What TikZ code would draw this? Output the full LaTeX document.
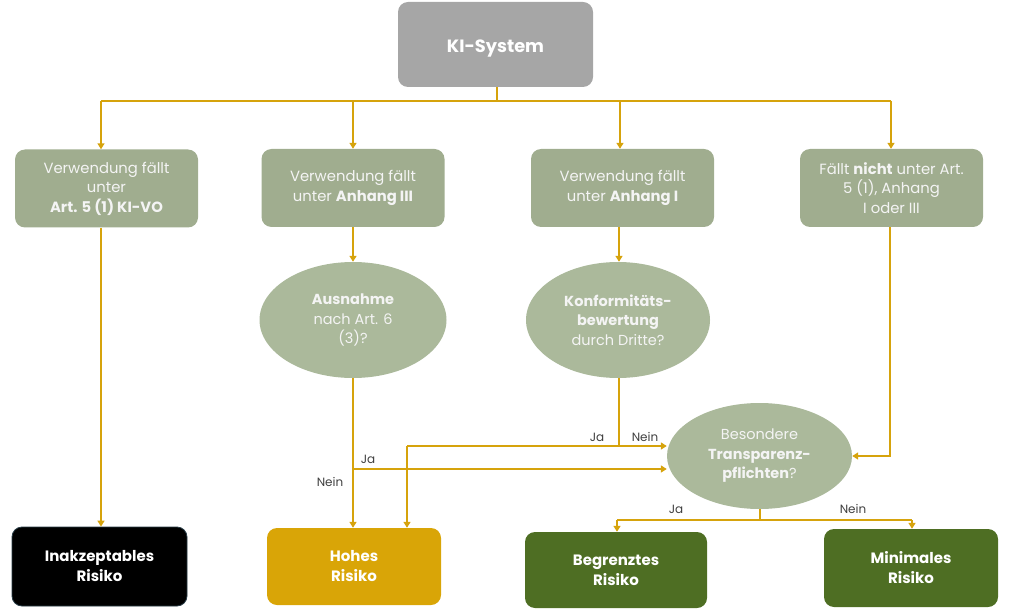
\documentclass[tikz,border=0pt]{standalone}
\usepackage{fontspec}
\setmainfont{Poppins}
\usetikzlibrary{shapes.geometric,arrows.meta}
\definecolor{sage}{HTML}{A0AD8F}
\definecolor{sagelight}{HTML}{ABB99B}
\definecolor{kigray}{HTML}{A6A6A6}
\definecolor{gold}{HTML}{D6A30C}
\definecolor{hohes}{HTML}{D9A507}
\definecolor{dgreen}{HTML}{4E6E23}
\definecolor{lbl}{HTML}{404040}
\definecolor{boxtext}{HTML}{F4F4F4}
\tikzset{
  cbox/.style={rectangle, rounded corners=10pt, fill=sage, text=boxtext, align=center,
    minimum width=183pt, minimum height=78pt, inner sep=2pt, font=\fontsize{14.8}{19.5}\selectfont},
  rbox/.style={rectangle, rounded corners=10pt, text=white, align=center,
    minimum height=78pt, inner sep=2pt, font=\bfseries\fontsize{15}{20}\selectfont},
  cell/.style={ellipse, fill=sagelight, text=boxtext, align=center, inner sep=0pt,
    font=\fontsize{14.5}{19.5}\selectfont},
  cline/.style={draw=gold, line width=2.2pt},
  carr/.style={cline, -{Triangle[length=6pt,width=7pt]}},
  clbl/.style={text=lbl, font=\fontsize{12}{14}\selectfont, inner sep=1pt}
}
\begin{document}
\begin{tikzpicture}[x=1pt,y=-1pt]
\useasboundingbox (0,0) rectangle (1024,612);
% nodes
\node[rectangle, rounded corners=10pt, fill=kigray, text=white, minimum width=195pt, minimum height=85pt,
  text height=19pt, text depth=3.6pt,
  font=\bfseries\fontsize{17.8}{20}\selectfont] (KI) at (495.5,44.5) {KI-System};
\node[cbox] (A1) at (106.5,188.5) {Verwendung fällt\\unter\\\textbf{Art. 5 (1) KI-VO}};
\node[cbox] (A2) at (353,188) {Verwendung fällt\\unter \textbf{Anhang III}};
\node[cbox] (A3) at (622.5,188) {Verwendung fällt\\unter \textbf{Anhang I}};
\node[cbox] (A4) at (891.5,188) {Fällt \textbf{nicht} unter Art.\\5 (1), Anhang\\I oder III};
\node[cell, minimum width=187pt, minimum height=116pt] (E1) at (353,320) {\textbf{Ausnahme}\\nach Art. 6\\(3)?};
\node[cell, minimum width=184pt, minimum height=116pt] (E2) at (618,320) {\textbf{Konformitäts-}\\\textbf{bewertung}\\durch Dritte?};
\node[cell, minimum width=185pt, minimum height=106pt] (E3) at (759.5,456) {Besondere\\\textbf{Transparenz-}\\\textbf{pflichten}?};
\node[rbox, fill=black, draw={rgb,255:red,40;green,60;blue,70}, line width=0.8pt, minimum width=175pt, minimum height=79pt] (B1) at (99.5,566.5) {Inakzeptables\\Risiko};
\node[rbox, fill=hohes, minimum width=174pt, minimum height=77pt] (B2) at (354,566.5) {Hohes\\Risiko};
\node[rbox, fill=dgreen, minimum width=182pt, minimum height=76pt] (B3) at (616,570) {Begrenztes\\Risiko};
\node[rbox, fill=dgreen, minimum width=174pt, minimum height=78pt] (B4) at (911,568) {Minimales\\Risiko};
% top distribution
\coordinate (t0) at (497,101);
\coordinate (tl) at (101,101);
\coordinate (tr) at (891,101);
\coordinate (t2) at (353,101);
\coordinate (t3) at (620,101);
\draw[cline] (t0 |- KI.south) -- (t0);
\draw[cline] (tl) -- (tr);
\draw[carr] (tl) -- (tl |- A1.north);
\draw[carr] (t2) -- (t2 |- A2.north);
\draw[carr] (t3) -- (t3 |- A3.north);
\draw[carr] (tr) -- (tr |- A4.north);
% column 1
\draw[carr] (A1.south -| tl) -- (tl |- B1.north);
% column 2
\coordinate (s1) at (353,469);
\draw[carr] (A2.south -| s1) -- (s1 |- E1.north);
\draw[carr] (E1.south) -- (s1 |- B2.north);
\draw[carr] (s1) -- (s1 -| E3.west);
% column 3
\coordinate (s2) at (619,446);
\coordinate (h2) at (407,446);
\draw[carr] (A3.south -| s2) -- (s2 |- E2.north);
\draw[cline] (E2.south -| s2) -- (s2);
\draw[carr] (h2) -- (s2 -| E3.west);
\draw[carr] (h2) -- (h2 |- B2.north);
% column 4
\coordinate (s4) at (890,456);
\draw[carr] (A4.south -| s4) -- (s4) -- (E3.east);
% bottom
\coordinate (u0) at (760,520);
\coordinate (ul) at (617,520);
\coordinate (ur) at (912,520);
\draw[cline] (E3.south -| u0) -- (u0);
\draw[cline] (ul) -- (ur);
\draw[carr] (ul) -- (ul |- B3.north);
\draw[carr] (ur) -- (ur |- B4.north);
% labels
\node[clbl] (l1) at (368,459) {Ja};
\node[clbl] (l2) at (330,482) {Nein};
\node[clbl, fill=white] (l3) at (597,437) {Ja};
\node[clbl] (l4) at (645,437) {Nein};
\node[clbl] (l5) at (676,509) {Ja};
\node[clbl] (l6) at (853,509) {Nein};
\end{tikzpicture}
\end{document}
